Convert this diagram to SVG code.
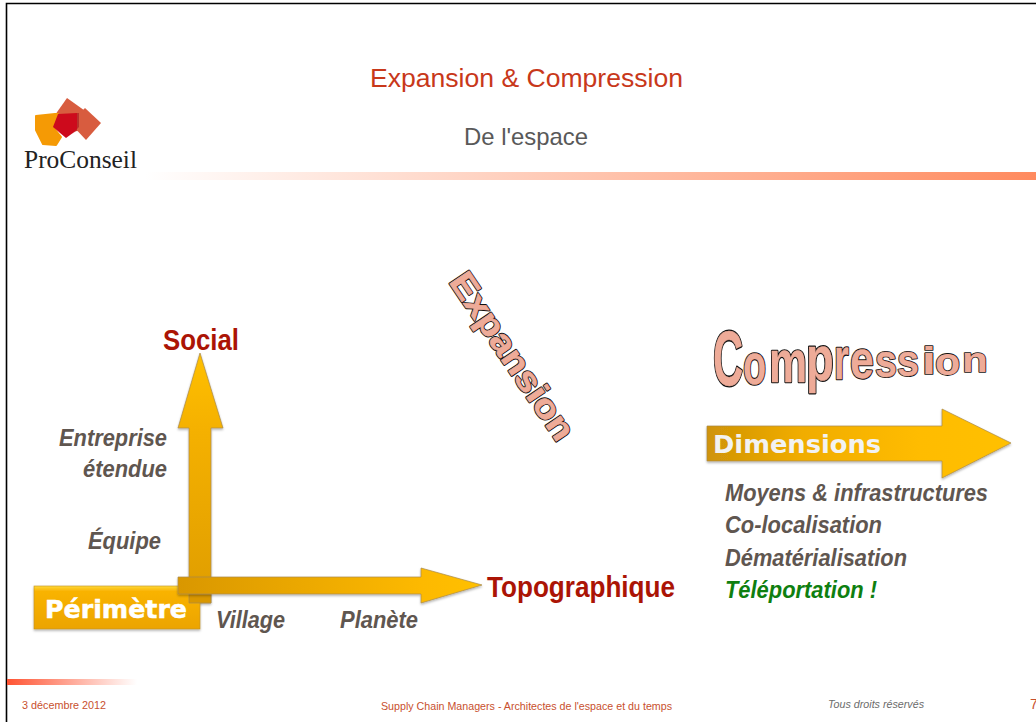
<svg xmlns="http://www.w3.org/2000/svg" width="1036" height="722" viewBox="0 0 1036 722">
<style>
text{font-family:"Liberation Sans",Arial,sans-serif}
.lab{font-weight:bold;font-style:italic;font-size:24px;fill:#5f5650}
.red{font-weight:bold;font-size:29px;fill:#ab1405}
.wa{font-weight:bold;fill:#eeab98}
.o{stroke:#111;stroke-linejoin:round}
.f{stroke:#eeab98;stroke-linejoin:round}
.ban{font-family:"DejaVu Sans",Verdana,sans-serif;font-weight:bold;font-size:24px;fill:#fff}
.foot{font-size:10.7px;fill:#c8502e}
.arr{stroke:#a98a4a;stroke-width:.7;filter:url(#sh)}
</style>
<defs>
<linearGradient id="top" x1="0" x2="1" y1="0" y2="0"><stop offset="0" stop-color="#fff"/><stop offset="1" stop-color="#ff8a5e"/></linearGradient>
<linearGradient id="bot" x1="0" x2="1" y1="0" y2="0"><stop offset="0" stop-color="#ff5433"/><stop offset="1" stop-color="#fff"/></linearGradient>
<linearGradient id="v" gradientUnits="userSpaceOnUse" x1="0" x2="0" y1="603" y2="353"><stop offset="0" stop-color="#df9d00"/><stop offset=".7" stop-color="#f5b100"/><stop offset="1" stop-color="#ffc000"/></linearGradient>
<linearGradient id="h" gradientUnits="userSpaceOnUse" x1="178" x2="482" y1="0" y2="0"><stop offset="0" stop-color="#d99700"/><stop offset=".8" stop-color="#fdb900"/><stop offset="1" stop-color="#ffc000"/></linearGradient>
<linearGradient id="d" gradientUnits="userSpaceOnUse" x1="707" x2="1011" y1="0" y2="0"><stop offset="0" stop-color="#cf9308"/><stop offset=".3" stop-color="#f0ac00"/><stop offset=".7" stop-color="#ffbc00"/><stop offset="1" stop-color="#ffc000"/></linearGradient>
<linearGradient id="p" x1="0" x2="0" y1="0" y2="1"><stop offset="0" stop-color="#ffd93a"/><stop offset=".12" stop-color="#f9b300"/><stop offset="1" stop-color="#eca400"/></linearGradient>
<filter id="sh" x="-10%" y="-10%" width="120%" height="120%"><feDropShadow dx="0" dy="1.5" stdDeviation="1.2" flood-color="#000" flood-opacity=".3"/></filter>
</defs>
<rect width="1036" height="722" fill="#fff"/>
<path d="M6.500 722V3.500H1036" fill="none" stroke="#000" stroke-width="1.6"/>
<rect x="145" y="172" width="891" height="8" fill="url(#top)"/>
<rect x="7" y="679" width="130" height="6" fill="url(#bot)"/>

<g id="logo">
<path d="M67 98 L88 113 L85 130 L70 132 L55 115Z" fill="#d85c3f"/>
<path d="M85 108 L101 123 L86 140 L70 123Z" fill="#d85c3f"/>
<path d="M36 116 L55 114 L58 114 L53 127 L61 137 L56 145 L43 144 L36 130Z" fill="#f59a05" stroke="#f59a05" stroke-width="2" stroke-linejoin="round"/>
<path d="M58 114 L77 113 L77 130 L66 138 L53 127Z" fill="#cd0a1c"/>
<path d="M77 113V130L72 134 L79 127 V113Z" fill="#b8302c"/>
<text x="24" y="168" font-size="25" textLength="113" lengthAdjust="spacingAndGlyphs" style="font-family:'Liberation Serif',serif" fill="#222">ProConseil</text>
</g>

<g id="title">
<text x="370" y="87" font-size="26.600" fill="#c8381a" textLength="313" lengthAdjust="spacingAndGlyphs">Expansion &amp; Compression</text>
<text x="464" y="145" font-size="24" fill="#595959" textLength="124" lengthAdjust="spacingAndGlyphs">De l'espace</text>
</g>

<g id="expansion">
<text class="wa o" transform="translate(448.3,281.7) rotate(56)" font-size="34" stroke-width="2.4" textLength="195" lengthAdjust="spacingAndGlyphs">Expansion</text>
<text class="wa f" transform="translate(448.3,281.7) rotate(56)" font-size="34" stroke-width=".7" textLength="195" lengthAdjust="spacingAndGlyphs">Expansion</text>
</g>

<defs>
<g id="cw" class="wa" font-size="33">
<text transform="translate(713,385) scale(1.1,2.05)" font-size="38">C</text>
<text transform="translate(743,384) scale(1.15,1.75)">o</text>
<text transform="translate(769,382) scale(1.3,1.8)">m</text>
<text transform="translate(806,380) scale(1.38,1.9)">p</text>
<text transform="translate(834,379) scale(1.15,1.8)">r</text>
<text transform="translate(850,378) scale(1.3,1.6)">e</text>
<text transform="translate(875,377) scale(1.2,1.4)">s</text>
<text transform="translate(897,376) scale(1.2,1.35)">s</text>
<text transform="translate(922,374) scale(1.5,1.15)">i</text>
<text transform="translate(935,375) scale(1.25,1.2)">o</text>
<text transform="translate(962,372) scale(1.28,1.05)">n</text>
</g>
</defs>
<g id="compression">
<use href="#cw" stroke="#111" stroke-width="1.5" stroke-linejoin="round"/>
<use href="#cw" stroke="#eeab98" stroke-width=".2" stroke-linejoin="round"/>
</g>

<g id="connectors">
<path class="arr" fill="url(#v)" d="M189 603V428H178L200 353L223 428H211V603Z"/>
</g>

<g id="perimetre">
<rect x="34" y="586" width="166" height="43" fill="url(#p)" stroke="#c08f20" stroke-width=".6" filter="url(#sh)"/>
<text class="ban" x="45" y="618" textLength="142" lengthAdjust="spacingAndGlyphs" stroke="#fff" stroke-width=".5">Périmètre</text>
</g>
<g id="connectors-2">
<path fill="#d99700" stroke="#a98a4a" stroke-width=".7" d="M189 594H211V603H189Z"/>
<path class="arr" fill="url(#h)" d="M178 577H421V568L482 585L421 603V594H178Z"/>
</g>

<g id="dimensions">
<path class="arr" fill="url(#d)" d="M707 426H942V409L1011 443L942 478V461H707Z"/>
<text class="ban" x="713" y="453" textLength="168" lengthAdjust="spacingAndGlyphs" style="fill:#f2f2f2">Dimensions</text>
</g>

<g id="axis-labels">
<text class="red" x="163" y="350" textLength="76" lengthAdjust="spacingAndGlyphs">Social</text>
<text class="red" x="487" y="597" textLength="188" lengthAdjust="spacingAndGlyphs">Topographique</text>
<text class="lab" x="59" y="446" textLength="108" lengthAdjust="spacingAndGlyphs">Entreprise</text>
<text class="lab" x="83" y="477" textLength="84" lengthAdjust="spacingAndGlyphs">étendue</text>
<text class="lab" x="88" y="549" textLength="73" lengthAdjust="spacingAndGlyphs">Équipe</text>
<text class="lab" x="216" y="628" textLength="69" lengthAdjust="spacingAndGlyphs">Village</text>
<text class="lab" x="340" y="628" textLength="78" lengthAdjust="spacingAndGlyphs">Planète</text>
</g>

<g id="dimension-list">
<text class="lab" x="725" y="501" textLength="263" lengthAdjust="spacingAndGlyphs">Moyens &amp; infrastructures</text>
<text class="lab" x="725" y="533" textLength="157" lengthAdjust="spacingAndGlyphs">Co-localisation</text>
<text class="lab" x="725" y="566" textLength="182" lengthAdjust="spacingAndGlyphs">Dématérialisation</text>
<text class="lab" x="725" y="598" textLength="152" lengthAdjust="spacingAndGlyphs" style="fill:#0f7f10">Téléportation !</text>
</g>

<g id="footer">
<text class="foot" x="22" y="709" textLength="84" lengthAdjust="spacingAndGlyphs">3 décembre 2012</text>
<text class="foot" x="381" y="710" textLength="291" lengthAdjust="spacingAndGlyphs">Supply Chain Managers - Architectes de l'espace et du temps</text>
<text x="828" y="708" font-size="10.6" font-style="italic" fill="#6b6b6b" textLength="96" lengthAdjust="spacingAndGlyphs">Tous droits réservés</text>
<text x="1030" y="709" font-size="14" fill="#c8502e">7</text>
</g>
</svg>
